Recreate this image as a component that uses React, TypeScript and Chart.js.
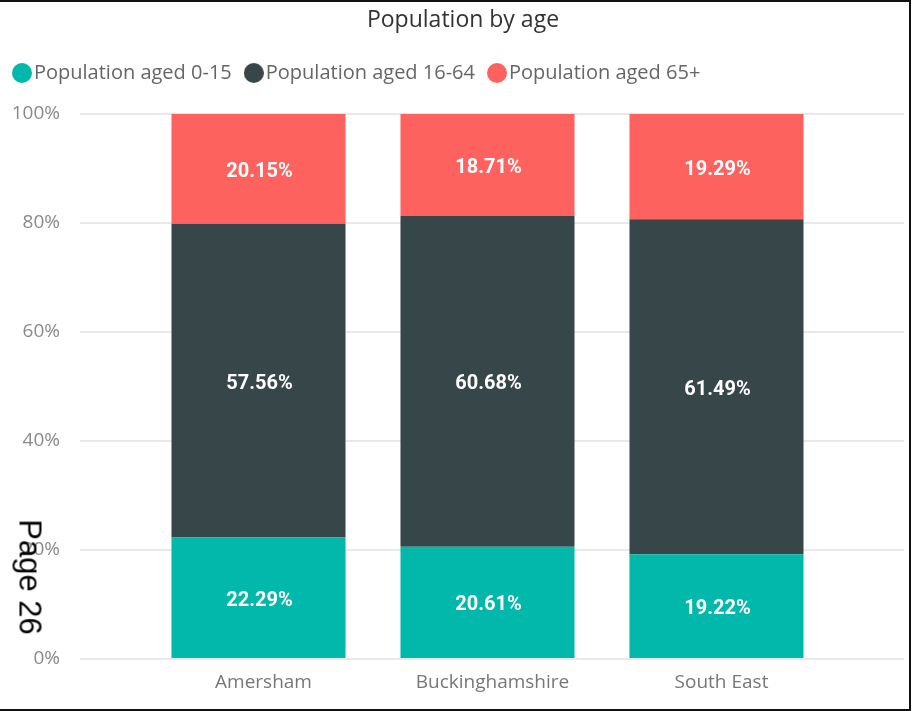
import React, { useEffect, useRef } from 'react';
import { Chart, registerables } from 'chart.js';

Chart.register(...registerables);

const chartTitle = 'Population by age';
const pageLabel = 'Page 26';
const categories = ['Amersham', 'Buckinghamshire', 'South East'];
const seriesNames = ['Population aged 0-15', 'Population aged 16-64', 'Population aged 65+'];
const aged0to15 = [22.29, 20.61, 19.22];
const aged16to64 = [57.56, 60.68, 61.49];
const aged65plus = [20.15, 18.71, 19.29];
const seriesColors = ['#01B8AA', '#374649', '#FD625E'];
const yTickStep = 20;

function makeDot(color: string, d: number) {
  const c = document.createElement('canvas');
  c.width = d;
  c.height = d;
  const ctx = c.getContext('2d')!;
  ctx.fillStyle = color;
  ctx.beginPath();
  ctx.arc(d / 2, d / 2, d / 2, 0, Math.PI * 2);
  ctx.fill();
  return c;
}

const legendSpacer = {
  id: 'legendSpacer',
  beforeInit(chart: any) {
    const legend = chart.legend;
    if (!legend) return;
    const orig = legend.fit;
    legend.fit = function fit() {
      orig.bind(legend)();
      this.height += 21;
    };
  },
  afterLayout(chart: any) {
    if (chart.titleBlock) chart.titleBlock.left += 22;
  },
};

const segmentLabels = {
  id: 'segmentLabels',
  afterDatasetsDraw(chart: any) {
    const ctx = chart.ctx;
    ctx.save();
    ctx.font = 'bold 20px Roboto, "Noto Sans", sans-serif';
    ctx.fillStyle = '#ffffff';
    ctx.textAlign = 'center';
    ctx.textBaseline = 'middle';
    chart.data.datasets.forEach((ds: any, di: number) => {
      const meta = chart.getDatasetMeta(di);
      meta.data.forEach((el: any, i: number) => {
        const v = ds.data[i].y as number;
        const p = el.getProps(['x', 'y', 'base'], true);
        ctx.fillText(v.toFixed(2) + '%', p.x + 1, (p.y + p.base) / 2 + 3);
      });
    });
    ctx.restore();
  },
};

export default function App() {
  const ref = useRef<HTMLCanvasElement | null>(null);

  useEffect(() => {
    if (!ref.current) return;
    const series = [aged0to15, aged16to64, aged65plus];
    const chart = new Chart(ref.current, {
      type: 'bar',
      data: {
        datasets: series.map((vals, si) => ({
          label: seriesNames[si],
          data: vals.map((v, i) => ({ x: i, y: v })),
          backgroundColor: seriesColors[si],
          borderWidth: 0,
          pointStyle: makeDot(seriesColors[si], 20) as any,
          categoryPercentage: 1,
          barPercentage: 0.76,
        })),
      },
      options: {
        animation: false,
        responsive: false,
        devicePixelRatio: 1,
        layout: { padding: { left: 0, right: 8, top: 0, bottom: 0 } },
        plugins: {
          title: {
            display: true,
            text: chartTitle,
            color: '#333333',
            font: { family: '"Open Sans", sans-serif', size: 23, weight: 'normal' },
            padding: { top: 7, bottom: 8.4 },
          },
          legend: {
            display: true,
            position: 'top',
            align: 'start',
            labels: {
              usePointStyle: true,
              pointStyleWidth: 4,
              padding: 20,
              color: '#666666',
              font: { family: '"Open Sans", sans-serif', size: 20 },
            },
          },
          tooltip: { enabled: false },
        },
        scales: {
          x: {
            type: 'linear',
            stacked: true,
            offset: false,
            min: -0.7795,
            max: 2.8188,
            afterBuildTicks: (scale: any) => {
              scale.ticks = categories.map((_, i) => ({ value: i }));
            },
            afterFit: (scale: any) => {
              scale.height = 52;
            },
            grid: { display: false, drawTicks: false },
            border: { display: false },
            ticks: {
              autoSkip: false,
              maxRotation: 0,
              padding: 12,
              labelOffset: 5,
              color: '#777777',
              font: { family: '"Open Sans", sans-serif', size: 19 },
              callback: (v: any) => categories[Math.round(Number(v))] ?? '',
            },
          },
          y: {
            stacked: true,
            min: 0,
            max: 100,
            afterFit: (scale: any) => {
              scale.width = 80;
            },
            grid: { color: '#e9e9e9', lineWidth: 2, drawTicks: false },
            border: { display: false },
            ticks: {
              stepSize: yTickStep,
              padding: 20,
              color: '#8a8a8a',
              font: { family: '"Open Sans", sans-serif', size: 19 },
              callback: (v: any) => v + '%',
            },
          },
        },
      },
      plugins: [legendSpacer, segmentLabels],
    } as any);
    return () => chart.destroy();
  }, []);

  return (
    <div style={{ position: 'absolute', left: 0, top: 0, width: 912, height: 711, background: '#fff', overflow: 'hidden' }}>
      <canvas ref={ref} width={912} height={711} style={{ position: 'absolute', left: 0, top: 0, width: 912, height: 711 }} />
      <div
        style={{
          position: 'absolute',
          left: 30,
          top: 577,
          transform: 'translate(-50%, -50%) rotate(90deg)',
          fontFamily: '"Liberation Sans", Arial, sans-serif',
          fontSize: 31,
          lineHeight: 1,
          color: '#000',
          whiteSpace: 'nowrap',
        }}
      >
        {pageLabel}
      </div>
      <div style={{ position: 'absolute', left: 0, top: 0, width: 911, height: 2, background: '#111' }} />
      <div style={{ position: 'absolute', left: 909, top: 0, width: 2, height: 711, background: '#111' }} />
      <div style={{ position: 'absolute', left: 0, top: 709, width: 911, height: 2, background: '#111' }} />
    </div>
  );
}
